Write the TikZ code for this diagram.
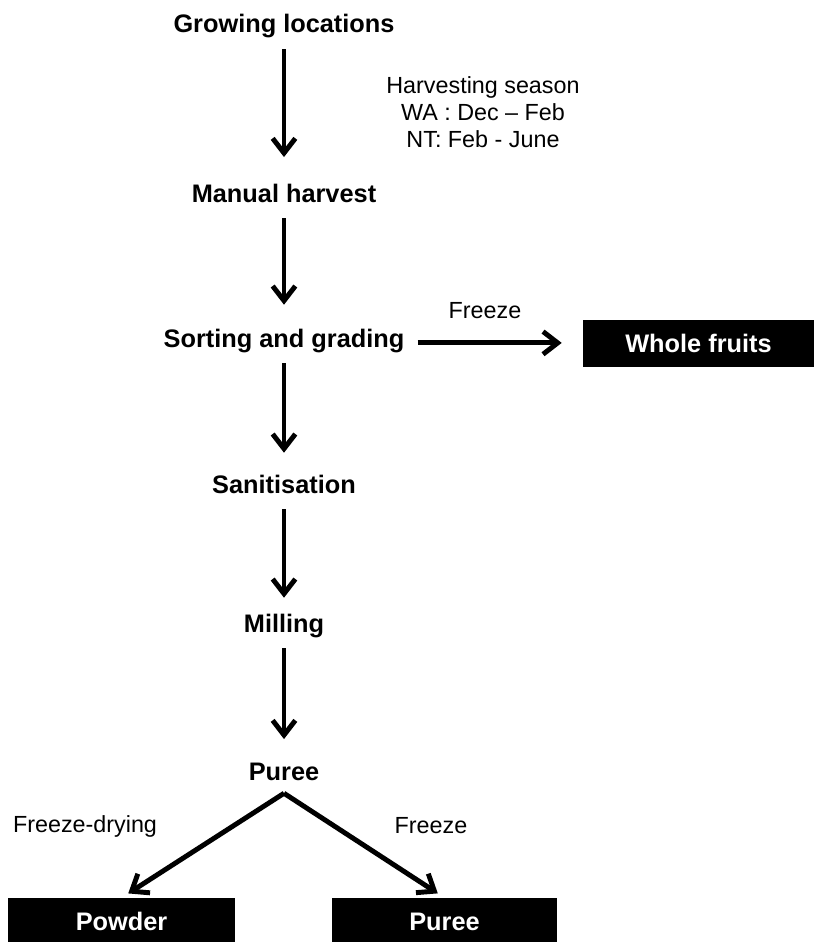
\documentclass[tikz,border=0pt]{standalone}
\usepackage{fontspec}
\setmainfont{Liberation Sans}
\usetikzlibrary{arrows.meta}

\tikzset{
  stage/.style={font=\fontsize{19}{22}\selectfont\bfseries, inner sep=0pt,
    text height=13.5pt, text depth=3.75pt, anchor=base},
  product/.style={fill=black, text=white, font=\fontsize{19}{22}\selectfont\bfseries,
    minimum height=35.25pt, inner sep=0pt},
  note/.style={font=\fontsize{17.5}{20.25}\selectfont, inner sep=0pt},
  flow/.style={-{Straight Barb[length=11pt,width=17pt]}, line width=3.7pt},
}

\begin{document}
\begin{tikzpicture}[x=0.75pt, y=-0.75pt]
  \clip (0,0) rectangle (814,942);
  % main chain
  \node[stage] (grow) at (284,33) {Growing locations};
  \node[stage] (harv) at (284,202) {Manual harvest};
  \node[stage] (sort) at (284,347) {Sorting and grading};
  \node[stage] (sani) at (284,493) {Sanitisation};
  \node[stage] (mill) at (284,632) {Milling};
  \node[stage] (pure) at (284,780) {Puree};
  \foreach \a/\b/\e in {grow/harv/20pt,harv/sort/18pt,sort/sani/16.5pt,sani/mill/12pt,mill/pure/17pt}
    \draw[flow, shorten <=8.25pt, shorten >=\e] (\a.south) -- (\b.north);

  \node[note, align=center, anchor=north] (season) at (483,76)
    {Harvesting season\\WA : Dec – Feb\\NT: Feb - June};

  % whole fruits branch
  \node[product, minimum width=173.25pt] (whole) at (698.5,343.5) {Whole fruits};
  \draw[flow, shorten <=9.75pt, shorten >=15.75pt] ([yshift=-1.8pt]sort.east) -- ([yshift=-1.8pt]sort.east -| whole.west);
  \node[note, anchor=base] (frzA) at (485,318) {Freeze};

  % puree split
  \coordinate (fork) at ([yshift=-6pt]pure.south);
  \node[product, minimum width=170.25pt] (powder) at (121.5,921.5) {Powder};
  \node[product, minimum width=168.75pt] (pureebox) at (444.5,921.5) {Puree};
  \draw[flow, shorten >=6pt] (fork) -- (powder.north);
  \draw[flow, shorten >=6pt] (fork) -- (pureebox.north);
  \node[note, anchor=base] (frzdry) at (85,832) {Freeze-drying};
  \node[note, anchor=base] (frzB) at (431,833) {Freeze};
\end{tikzpicture}
\end{document}
